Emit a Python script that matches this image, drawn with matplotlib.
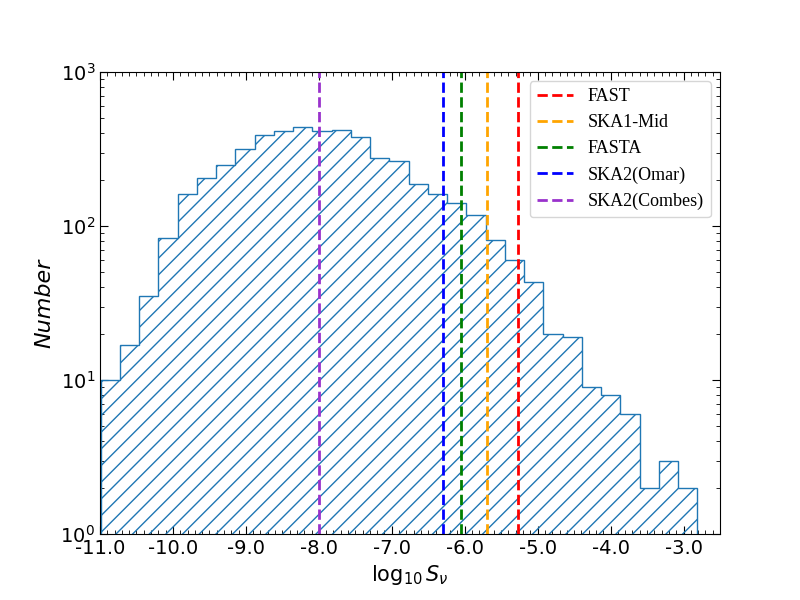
import numpy as np
import matplotlib
matplotlib.use("Agg")
import matplotlib.pyplot as plt
from matplotlib.ticker import MultipleLocator, FormatStrFormatter

# Histogram bin edges (log10 S_nu) and counts
bin_lo = -10.99
bin_hi = -2.81
n_bins = 31
counts = [10, 17, 35, 83, 162, 206, 250, 314, 387, 411, 440, 415, 419, 379,
          278, 264, 187, 161, 141, 117, 81, 60, 43, 20, 19, 9, 8, 6, 2, 3, 2]

# Sensitivity limits
lim_names = ["FAST", "SKA1-Mid", "FASTA", "SKA2(Omar)", "SKA2(Combes)"]
lim_values = [-5.27, -5.70, -6.05, -6.30, -8.0]
lim_colors = ["red", "orange", "green", "blue", "darkorchid"]

edges = np.linspace(bin_lo, bin_hi, n_bins + 1)
centers = 0.5 * (edges[:-1] + edges[1:])

fig, ax = plt.subplots(figsize=(8, 6), dpi=100)
ax.hist(centers, bins=edges, weights=counts, histtype='step', hatch='//',
        color='tab:blue', linewidth=1.0)

for name, v, c in zip(lim_names, lim_values, lim_colors):
    ax.axvline(v, color=c, linestyle='--', linewidth=2, label=name)

ax.set_yscale('log')
ax.set_ylim(1, 1000)
ax.set_xlim(-11, -2.5)
ax.xaxis.set_major_locator(MultipleLocator(1.0))
ax.xaxis.set_minor_locator(MultipleLocator(0.1))
ax.xaxis.set_major_formatter(FormatStrFormatter('%.1f'))
ax.tick_params(which='both', direction='in', top=True, right=True)
ax.tick_params(which='major', length=6, labelsize=14)
ax.tick_params(which='minor', length=3)

ax.set_xlabel(r'$\log_{10}S_\nu$', fontsize=15)
ax.set_ylabel('Number', fontsize=16, style='italic')

ax.legend(loc='upper right', prop={'family': 'Liberation Serif', 'size': 13})

fig.savefig('out.png', dpi=100)
